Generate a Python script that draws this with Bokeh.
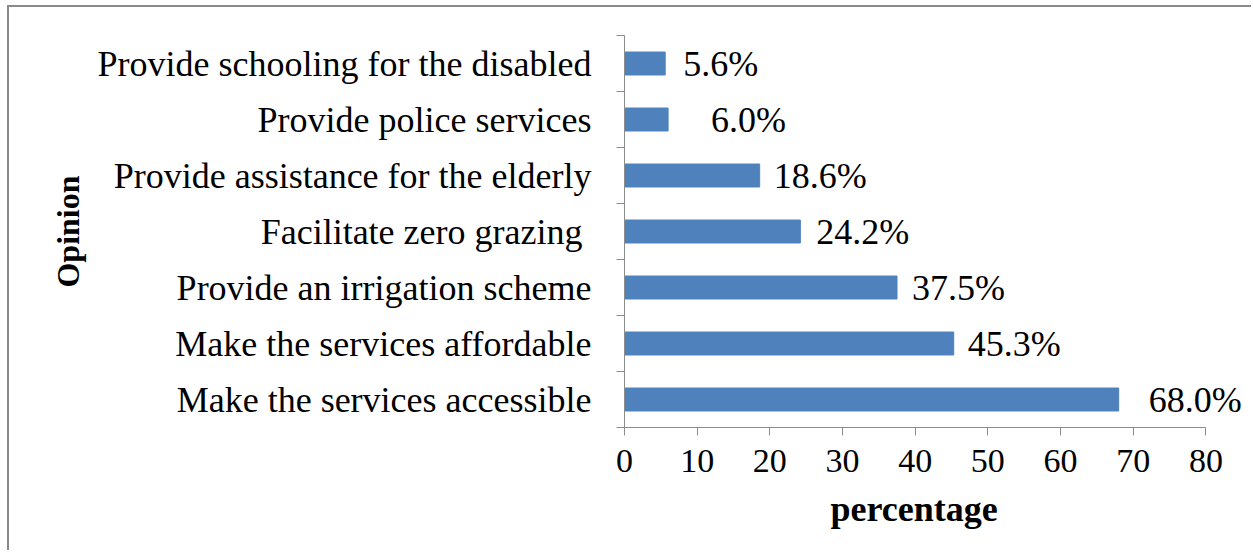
from bokeh.plotting import figure
from bokeh.models import ColumnDataSource, FixedTicker, Range1d, Title
from bokeh.core.properties import value
from bokeh.embed import file_html
from bokeh.resources import INLINE

# Data (bottom to top)
categories = [
    "Make the services accessible",
    "Make the services affordable",
    "Provide an irrigation scheme",
    "Facilitate zero grazing ",
    "Provide assistance for the elderly",
    "Provide police services",
    "Provide schooling for the disabled",
]
percentages = [68.0, 45.3, 37.5, 24.2, 18.6, 6.0, 5.6]
value_labels = ["68.0%", "45.3%", "37.5%", "24.2%", "18.6%", "6.0%", "5.6%"]
x_ticks = [0, 10, 20, 30, 40, 50, 60, 70, 80]

# label offsets in pixels (style)
label_dx = [30, 14, 15, 16, 14, 43, 18]

FONT = "Liberation Serif"
AXIS_GREY = "#8c8c8c"
BAR_COLOR = "#4F81BD"

ypos = [i + 0.5 for i in range(len(categories))]
src = ColumnDataSource(dict(y=ypos, pct=percentages, lab=value_labels, dx=label_dx))

p = figure(
    width=1244, height=545,
    x_range=Range1d(0, 86), y_range=Range1d(0, len(categories)),
    output_backend="svg", toolbar_location=None,
    min_border_left=615, min_border_right=4, min_border_top=28, min_border_bottom=125,
)
p.styles = {
    "margin-left": "7px", "margin-top": "5px",
    "border-left": "2px solid #8a8a8a", "border-top": "2px solid #8a8a8a",
}
p.outline_line_color = None
p.grid.visible = False

p.hbar(y="y", right="pct", left=0, height=0.41, source=src,
       fill_color=BAR_COLOR, line_color=BAR_COLOR)

p.text(x="pct", y="y", text="lab", x_offset="dx", source=src,
       text_font=value(FONT), text_font_size="36px", text_color="#000000",
       text_baseline="middle", text_align="left")

# x axis
xa = p.xaxis[0]
xa.ticker = FixedTicker(ticks=x_ticks)
xa.bounds = (0, 80)
xa.axis_line_color = AXIS_GREY
xa.major_tick_line_color = AXIS_GREY
xa.major_tick_out = 8
xa.major_tick_in = 0
xa.minor_tick_line_color = None
xa.major_label_text_font = FONT
xa.major_label_text_font_size = "34px"
xa.major_label_text_color = "#000000"
xa.major_label_standoff = 14

# x axis title, centred under the 0-80 span
xt = Title(text="percentage", align="left", offset=206, standoff=24,
           text_font=FONT, text_font_size="36px", text_font_style="bold",
           text_color="#000000")
p.add_layout(xt, "below")

# y axis: labels at category centres, ticks at boundaries
ya = p.yaxis[0]
ya.ticker = FixedTicker(ticks=ypos, minor_ticks=list(range(len(categories) + 1)))
ya.major_label_overrides = {y: c for y, c in zip(ypos, categories)}
ya.axis_line_color = AXIS_GREY
ya.major_tick_line_color = None
ya.minor_tick_line_color = AXIS_GREY
ya.minor_tick_out = 8
ya.minor_tick_in = 0
ya.major_label_text_font = FONT
ya.major_label_text_font_size = "36px"
ya.major_label_text_color = "#000000"
ya.major_label_standoff = 25
ya.axis_label = "Opinion"
ya.axis_label_text_font = FONT
ya.axis_label_text_font_size = "32px"
ya.axis_label_text_font_style = "bold"
ya.axis_label_text_color = "#000000"
ya.axis_label_standoff = 9

open("out.html", "w").write(file_html(p, INLINE))
